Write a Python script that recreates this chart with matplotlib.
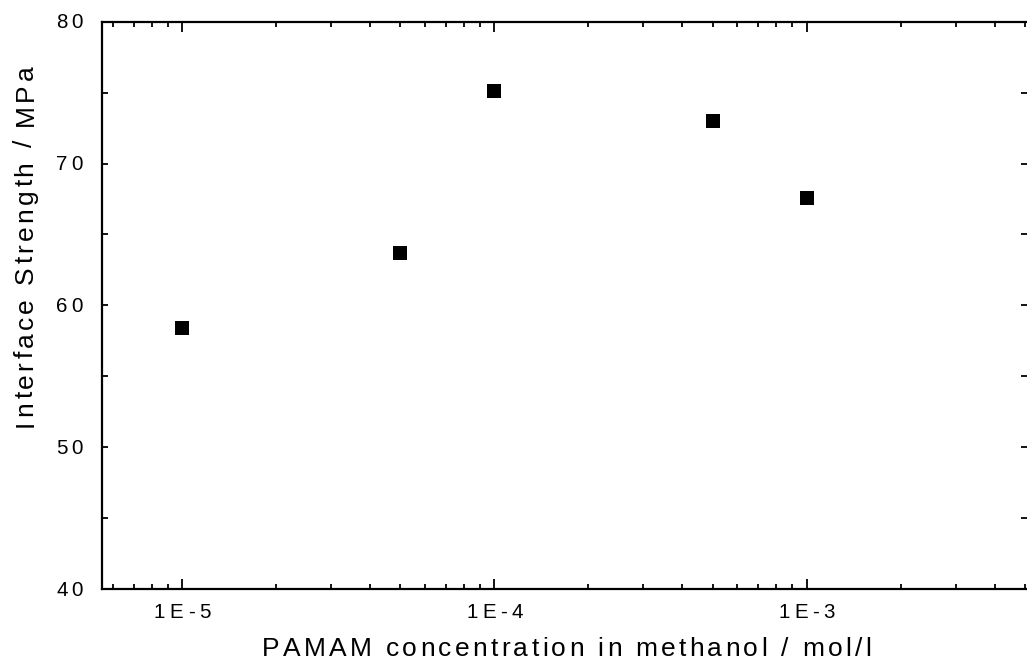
import matplotlib
matplotlib.use("Agg")
import matplotlib.pyplot as plt
from matplotlib.transforms import ScaledTranslation, blended_transform_factory
from matplotlib.font_manager import FontProperties, findfont, get_font
from matplotlib.ticker import FixedLocator, LogLocator, MultipleLocator, NullFormatter

# Measured interface strength vs. PAMAM concentration
concentration = [1e-5, 5e-5, 1e-4, 5e-4, 1e-3]      # mol/l
strength = [58.4, 63.7, 75.1, 73.0, 67.6]            # MPa

x_tick_values = [1e-5, 1e-4, 1e-3]
x_tick_labels = ["1E-5", "1E-4", "1E-3"]
y_tick_values = [40, 50, 60, 70, 80]
y_tick_labels = ["40", "50", "60", "70", "80"]

x_label = "PAMAM concentration in methanol / mol/l"
y_label = "Interface Strength / MPa"

W, H, DPI = 1027, 659, 100
fig = plt.figure(figsize=(W / DPI, H / DPI), dpi=DPI)
left_px, right_px, top_px, bottom_px = 101.7, 1027.0, 21.7, 589.0
ax = fig.add_axes([left_px / W, 1 - bottom_px / H,
                   (right_px - left_px) / W, (bottom_px - top_px) / H])

ax.set_xscale("log")
ax.set_xlim(5.52e-6, 5.08e-3)
ax.set_ylim(40, 80)

ax.plot(concentration, strength, "s", color="black", markersize=10,
        markeredgewidth=0, clip_on=False, zorder=3)

ax.xaxis.set_major_locator(FixedLocator(x_tick_values))
ax.xaxis.set_minor_locator(LogLocator(base=10, subs=range(2, 10), numticks=20))
ax.xaxis.set_major_formatter(NullFormatter())
ax.xaxis.set_minor_formatter(NullFormatter())
ax.yaxis.set_major_locator(FixedLocator(y_tick_values))
ax.yaxis.set_minor_locator(MultipleLocator(5))
ax.yaxis.set_major_formatter(NullFormatter())
ax.yaxis.set_minor_formatter(NullFormatter())

ax.tick_params(which="both", direction="in", top=True, right=True,
               labelbottom=False, labelleft=False, color="black")
ax.tick_params(axis="x", which="major", length=7.5, width=1.3)
ax.tick_params(axis="x", which="minor", length=3.6, width=1.3)
ax.tick_params(axis="y", which="both", length=4.3, width=1.3)
for side in ("left", "top", "bottom"):
    ax.spines[side].set_linewidth(1.6)
ax.spines["right"].set_visible(False)

FAMILY = "Liberation Sans"
tick_prop = FontProperties(family=FAMILY, size=14.8)
label_prop = FontProperties(family=FAMILY, size=19)


def glyph_advance(prop, ch):
    font = get_font(findfont(prop))
    font.set_size(prop.get_size_in_points(), DPI)
    g = font.load_char(ord(ch))
    return g.linearHoriAdvance / 65536.0


def tracked_text(x, y, s, transform, prop, tracking, ha="left", rotation=0):
    """Draw letter-spaced text; tracking is extra space between glyphs in pixels."""
    advances = [glyph_advance(prop, c) for c in s]
    total = sum(advances) + tracking * (len(s) - 1)
    pen = {"left": 0.0, "center": -total / 2.0, "right": -total}[ha]
    for ch, adv in zip(s, advances):
        if ch != " ":
            d = pen / DPI
            shift = (d, 0) if rotation == 0 else (0, d)
            off = ScaledTranslation(shift[0], shift[1], fig.dpi_scale_trans)
            fig.text(x, y, ch, transform=transform + off, fontproperties=prop,
                     ha="left", va="baseline", rotation=rotation,
                     rotation_mode="anchor", color="black")
        pen += adv + tracking


# x tick labels below the axis
xt = blended_transform_factory(ax.transData, ax.transAxes)
for v, lab in zip(x_tick_values, x_tick_labels):
    tr = xt + ScaledTranslation(0, -29 / DPI, fig.dpi_scale_trans)
    tracked_text(v, 0, lab, tr, tick_prop, 4.5, ha="center")

# y tick labels left of the axis
yt = blended_transform_factory(ax.transAxes, ax.transData)
for v, lab in zip(y_tick_values, y_tick_labels):
    tr = yt + ScaledTranslation(-19 / DPI, -6.5 / DPI, fig.dpi_scale_trans)
    tracked_text(0, v, lab, tr, tick_prop, 3.5, ha="right")

# axis titles
tracked_text(566.5 / W, 1 - 656 / H, x_label, fig.transFigure, label_prop, 3.3, ha="center")
tracked_text(32.5 / W, 1 - 246 / H, y_label, fig.transFigure, label_prop, 3.3,
             ha="center", rotation=90)

fig.savefig("out.png", dpi=DPI, facecolor="white")
